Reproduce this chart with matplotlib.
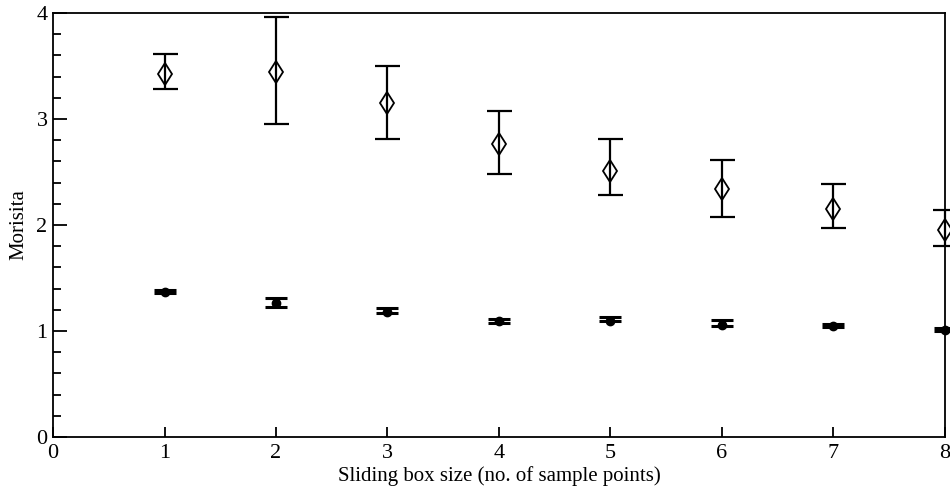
import numpy as np
import matplotlib
matplotlib.use('Agg')
import matplotlib.pyplot as plt
from matplotlib.ticker import MultipleLocator

# Valori
box_size = [1, 2, 3, 4, 5, 6, 7, 8]

# serie con rombi vuoti
diamond_mean = [3.42, 3.44, 3.15, 2.76, 2.51, 2.34, 2.15, 1.95]
diamond_upper = [3.61, 3.96, 3.50, 3.08, 2.81, 2.61, 2.39, 2.14]
diamond_lower = [3.28, 2.95, 2.81, 2.48, 2.28, 2.08, 1.97, 1.80]

# serie con cerchi pieni
dot_mean = [1.37, 1.26, 1.18, 1.09, 1.09, 1.06, 1.05, 1.01]
dot_upper = [1.39, 1.31, 1.22, 1.11, 1.13, 1.10, 1.07, 1.03]
dot_lower = [1.36, 1.23, 1.17, 1.08, 1.09, 1.05, 1.04, 1.00]

plt.rcParams['font.family'] = ['Liberation Serif', 'DejaVu Serif']

fig = plt.figure(figsize=(9.5, 4.92), dpi=100)
ax = fig.add_axes([0.0558, 0.1118, 0.9389, 0.8618])

d_mean = np.array(diamond_mean)
d_err = [d_mean - np.array(diamond_lower), np.array(diamond_upper) - d_mean]
c_mean = np.array(dot_mean)
c_err = [c_mean - np.array(dot_lower), np.array(dot_upper) - c_mean]

ax.errorbar(box_size, d_mean, yerr=d_err, fmt='none', ecolor='black',
            elinewidth=1.6, capsize=9, capthick=1.6, clip_on=False, zorder=2)
ax.plot(box_size, d_mean, linestyle='none', marker='d', markersize=11.5,
        markerfacecolor='none', markeredgecolor='black', markeredgewidth=1.3,
        clip_on=False, zorder=3)

ax.errorbar(box_size, c_mean, yerr=c_err, fmt='none', ecolor='black',
            elinewidth=1.6, capsize=8, capthick=2.2, clip_on=False, zorder=2)
ax.plot(box_size, c_mean, linestyle='none', marker='o', markersize=6,
        markerfacecolor='black', markeredgecolor='black',
        clip_on=False, zorder=3)

ax.set_xlim(0, 8)
ax.set_ylim(0, 4)
ax.xaxis.set_major_locator(MultipleLocator(1))
ax.yaxis.set_major_locator(MultipleLocator(1))
ax.yaxis.set_minor_locator(MultipleLocator(0.2))

ax.tick_params(axis='both', which='both', direction='in', top=False, right=False,
               labelsize=16, width=1.3)
ax.tick_params(axis='x', which='major', length=7, pad=5)
ax.tick_params(axis='y', which='major', length=10, pad=4)
ax.tick_params(axis='y', which='minor', length=6)

for s in ax.spines.values():
    s.set_linewidth(1.3)

ax.set_xlabel('Sliding box size (no. of sample points)', fontsize=15, labelpad=2)
ax.set_ylabel('Morisita', fontsize=15, labelpad=6)

fig.savefig('out.png', dpi=100)
